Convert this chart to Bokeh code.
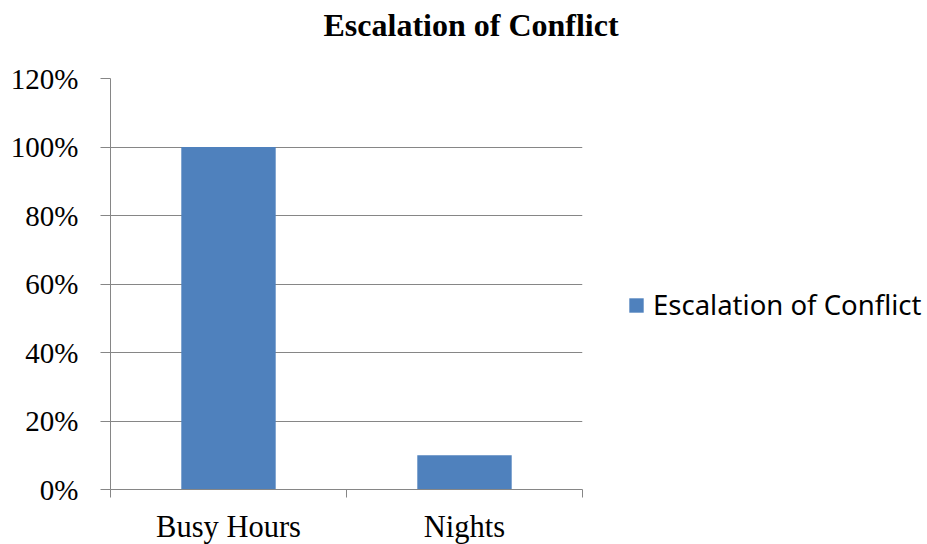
from bokeh.plotting import figure
from bokeh.models import (Range1d, FixedTicker, NumeralTickFormatter, Legend, LegendItem,
                          ColumnDataSource, Title)
from bokeh.embed import file_html
from bokeh.resources import INLINE

categories = ["Busy Hours", "Nights"]
values = [1.00, 0.10]
series_name = "Escalation of Conflict"
y_ticks = [0, 0.2, 0.4, 0.6, 0.8, 1.0, 1.2]

p = figure(width=927, height=544, output_backend="svg", toolbar_location=None,
           x_range=Range1d(0, len(categories)), y_range=Range1d(0, 1.2),
           frame_width=472, frame_height=411,
           min_border_left=110, min_border_right=345, min_border_top=78, min_border_bottom=55)
p.outline_line_color = None
p.background_fill_color = "white"
p.border_fill_color = "white"
p.title = None

centers = [i + 0.5 for i in range(len(categories))]
src = ColumnDataSource(dict(x=centers, top=values, cat=categories))
r = p.vbar(x="x", top="top", bottom=0, width=0.4, source=src,
           fill_color="#4F81BD", line_color=None)

GRAY = "#868686"
# x axis
xa = p.xaxis[0]
xa.ticker = FixedTicker(ticks=centers, minor_ticks=list(range(len(categories) + 1)))
xa.major_label_overrides = {c: n for c, n in zip(centers, categories)}
xa.major_tick_line_color = None
xa.major_tick_out = 0
xa.major_tick_in = 0
xa.minor_tick_line_color = GRAY
xa.minor_tick_out = 8
xa.minor_tick_in = 0
xa.axis_line_color = GRAY
xa.major_label_text_font = "Liberation Serif"
xa.major_label_text_font_size = "30.5px"
xa.major_label_text_color = "black"
xa.major_label_standoff = 12

# y axis
ya = p.yaxis[0]
ya.ticker = FixedTicker(ticks=y_ticks, minor_ticks=[])
ya.formatter = NumeralTickFormatter(format="0%")
ya.major_tick_line_color = GRAY
ya.major_tick_out = 10
ya.major_tick_in = 0
ya.minor_tick_line_color = None
ya.axis_line_color = GRAY
ya.major_label_text_font = "Liberation Serif"
ya.major_label_text_font_size = "29px"
ya.major_label_text_color = "black"
ya.major_label_standoff = 22

p.xgrid.grid_line_color = None
p.ygrid.grid_line_color = GRAY
p.ygrid.ticker = FixedTicker(ticks=y_ticks)

t = Title(text=series_name + "\n ", align="left", offset=213, text_font="Liberation Serif",
          text_font_size="32px", text_font_style="bold", text_color="black", standoff=0)
p.add_layout(t, "above")

legend = Legend(items=[LegendItem(label=series_name, renderers=[r])],
                location=(45, 166), border_line_color=None, background_fill_alpha=0,
                padding=0, margin=0, glyph_width=18, glyph_height=18, label_standoff=8,
                label_text_font="Noto Sans", label_text_font_size="27.5px",
                label_text_color="black")
p.add_layout(legend, "right")

open("out.html", "w").write(file_html(p, INLINE))
